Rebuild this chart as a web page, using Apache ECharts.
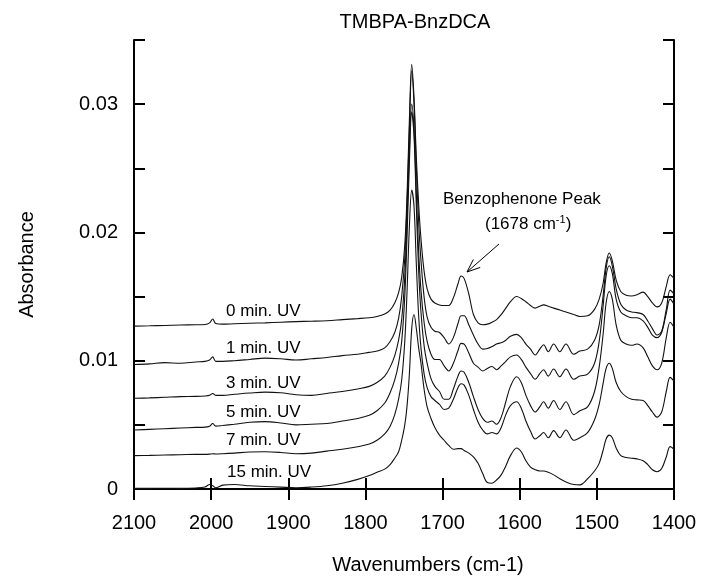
<!DOCTYPE html>
<html><head><meta charset="utf-8">
<script src="https://cdn.jsdelivr.net/npm/echarts@6/dist/echarts.min.js"></script>
<style>html,body{margin:0;padding:0;background:#fff}#c{width:702px;height:585px}</style>
</head><body><div id="c"></div>
<script>
// Shared wavenumber grid (cm-1)
const wavenumbers = [
  2100, 2080, 2060, 2040, 2020, 2008, 2002, 1998, 1994, 1985,
  1970, 1950, 1930, 1910, 1890, 1870, 1850, 1830, 1810, 1795,
  1785, 1775, 1768, 1762, 1757, 1753, 1749, 1746, 1743, 1740,
  1737, 1734, 1731, 1728, 1724, 1720, 1715, 1710, 1704, 1698,
  1692, 1686, 1680, 1676, 1672, 1666, 1660, 1654, 1648, 1642,
  1636, 1630, 1624, 1618, 1612, 1604, 1598, 1592, 1586, 1580,
  1574, 1569, 1563, 1556, 1548, 1540, 1530, 1522, 1512, 1503,
  1497, 1492, 1488, 1484, 1480, 1475, 1469, 1462, 1455, 1448,
  1440, 1434, 1428, 1422, 1416, 1410, 1405, 1400
];
const abs0min = [
  12.70e-3, 12.72e-3, 12.75e-3, 12.78e-3, 12.80e-3, 12.82e-3, 12.95e-3, 13.25e-3, 12.90e-3, 12.85e-3,
  12.88e-3, 12.92e-3, 12.95e-3, 13.00e-3, 13.05e-3, 13.08e-3, 13.12e-3, 13.20e-3, 13.28e-3, 13.35e-3,
  13.45e-3, 13.65e-3, 13.95e-3, 14.50e-3, 15.30e-3, 16.50e-3, 19.00e-3, 23.00e-3, 28.80e-3, 33.10e-3,
  30.50e-3, 25.80e-3, 22.20e-3, 19.50e-3, 17.00e-3, 15.60e-3, 14.80e-3, 14.50e-3, 14.35e-3, 14.30e-3,
  14.30e-3, 14.90e-3, 16.00e-3, 16.60e-3, 16.40e-3, 15.20e-3, 13.60e-3, 12.95e-3, 12.80e-3, 12.85e-3,
  13.00e-3, 13.20e-3, 13.60e-3, 14.10e-3, 14.60e-3, 15.00e-3, 14.85e-3, 14.60e-3, 14.30e-3, 14.10e-3,
  14.25e-3, 14.35e-3, 14.25e-3, 14.10e-3, 13.95e-3, 13.80e-3, 13.60e-3, 13.45e-3, 13.50e-3, 14.00e-3,
  14.80e-3, 16.00e-3, 17.60e-3, 18.40e-3, 17.80e-3, 16.30e-3, 15.40e-3, 15.10e-3, 15.05e-3, 15.15e-3,
  15.35e-3, 15.00e-3, 14.50e-3, 14.20e-3, 14.50e-3, 15.80e-3, 16.70e-3, 16.40e-3
];
const abs1min = [
  9.70e-3, 9.75e-3, 9.85e-3, 9.80e-3, 9.90e-3, 9.95e-3, 10.05e-3, 10.30e-3, 9.95e-3, 9.95e-3,
  10.00e-3, 10.10e-3, 10.20e-3, 10.15e-3, 10.05e-3, 10.15e-3, 10.25e-3, 10.40e-3, 10.50e-3, 10.65e-3,
  10.75e-3, 11.00e-3, 11.50e-3, 12.20e-3, 13.30e-3, 15.00e-3, 18.00e-3, 22.30e-3, 28.00e-3, 32.60e-3,
  30.00e-3, 25.00e-3, 20.80e-3, 17.80e-3, 15.00e-3, 13.40e-3, 12.60e-3, 12.30e-3, 12.20e-3, 11.80e-3,
  11.30e-3, 11.80e-3, 12.90e-3, 13.50e-3, 13.50e-3, 12.80e-3, 12.00e-3, 11.30e-3, 10.90e-3, 10.95e-3,
  11.10e-3, 11.30e-3, 11.40e-3, 11.60e-3, 11.90e-3, 12.05e-3, 11.80e-3, 11.30e-3, 10.90e-3, 10.45e-3,
  10.90e-3, 11.25e-3, 10.70e-3, 11.30e-3, 10.70e-3, 11.30e-3, 10.50e-3, 10.75e-3, 10.90e-3, 11.60e-3,
  12.80e-3, 15.00e-3, 17.20e-3, 18.10e-3, 17.40e-3, 15.60e-3, 14.40e-3, 13.95e-3, 13.80e-3, 13.75e-3,
  13.60e-3, 13.10e-3, 12.50e-3, 12.00e-3, 12.30e-3, 14.00e-3, 15.50e-3, 15.20e-3
];
const abs3min = [
  7.07e-3, 7.10e-3, 7.15e-3, 7.20e-3, 7.22e-3, 7.25e-3, 7.30e-3, 7.45e-3, 7.30e-3, 7.30e-3,
  7.38e-3, 7.48e-3, 7.55e-3, 7.50e-3, 7.35e-3, 7.30e-3, 7.45e-3, 7.60e-3, 7.80e-3, 8.00e-3,
  8.30e-3, 8.80e-3, 9.50e-3, 10.40e-3, 11.60e-3, 13.20e-3, 16.50e-3, 21.00e-3, 26.50e-3, 30.00e-3,
  28.00e-3, 23.00e-3, 18.50e-3, 15.50e-3, 13.00e-3, 11.50e-3, 10.50e-3, 10.10e-3, 10.10e-3, 9.60e-3,
  9.20e-3, 9.80e-3, 10.80e-3, 11.35e-3, 11.30e-3, 10.60e-3, 9.80e-3, 9.50e-3, 9.20e-3, 9.40e-3,
  9.55e-3, 9.30e-3, 9.60e-3, 9.95e-3, 10.30e-3, 10.45e-3, 10.10e-3, 9.50e-3, 9.00e-3, 8.55e-3,
  9.00e-3, 9.30e-3, 8.80e-3, 9.35e-3, 8.75e-3, 9.35e-3, 8.55e-3, 8.80e-3, 8.95e-3, 9.80e-3,
  11.50e-3, 14.20e-3, 16.60e-3, 17.40e-3, 16.80e-3, 14.80e-3, 13.80e-3, 13.50e-3, 13.35e-3, 13.35e-3,
  13.10e-3, 12.60e-3, 12.00e-3, 11.80e-3, 12.20e-3, 13.70e-3, 14.80e-3, 14.40e-3
];
const abs5min = [
  4.60e-3, 4.65e-3, 4.70e-3, 4.75e-3, 4.80e-3, 4.82e-3, 4.90e-3, 5.10e-3, 4.90e-3, 4.95e-3,
  5.05e-3, 5.20e-3, 5.25e-3, 5.15e-3, 5.00e-3, 5.05e-3, 5.10e-3, 5.30e-3, 5.50e-3, 5.75e-3,
  6.10e-3, 6.70e-3, 7.50e-3, 8.50e-3, 9.80e-3, 11.50e-3, 15.00e-3, 19.80e-3, 25.50e-3, 29.40e-3,
  27.50e-3, 22.00e-3, 17.00e-3, 13.80e-3, 11.20e-3, 9.80e-3, 8.60e-3, 8.00e-3, 7.60e-3, 7.00e-3,
  7.00e-3, 7.80e-3, 8.80e-3, 9.20e-3, 9.10e-3, 8.30e-3, 7.20e-3, 6.20e-3, 5.50e-3, 5.20e-3,
  5.30e-3, 5.05e-3, 5.60e-3, 6.80e-3, 8.00e-3, 8.75e-3, 8.30e-3, 7.30e-3, 6.50e-3, 6.00e-3,
  6.40e-3, 6.80e-3, 6.30e-3, 6.90e-3, 6.20e-3, 6.80e-3, 5.80e-3, 6.10e-3, 6.40e-3, 7.60e-3,
  9.50e-3, 12.00e-3, 14.50e-3, 15.40e-3, 14.80e-3, 12.80e-3, 11.60e-3, 11.30e-3, 11.20e-3, 11.30e-3,
  11.00e-3, 10.30e-3, 9.60e-3, 9.30e-3, 9.80e-3, 11.80e-3, 13.00e-3, 12.60e-3
];
const abs7min = [
  2.60e-3, 2.62e-3, 2.65e-3, 2.67e-3, 2.70e-3, 2.70e-3, 2.72e-3, 2.75e-3, 2.73e-3, 2.75e-3,
  2.80e-3, 2.88e-3, 2.90e-3, 2.85e-3, 2.75e-3, 2.80e-3, 2.95e-3, 3.10e-3, 3.30e-3, 3.50e-3,
  3.80e-3, 4.30e-3, 4.90e-3, 5.80e-3, 7.00e-3, 8.50e-3, 11.50e-3, 15.50e-3, 20.50e-3, 23.30e-3,
  22.00e-3, 17.50e-3, 13.50e-3, 11.00e-3, 9.00e-3, 7.90e-3, 7.20e-3, 6.90e-3, 6.60e-3, 6.20e-3,
  6.30e-3, 7.00e-3, 7.90e-3, 8.20e-3, 8.10e-3, 7.30e-3, 6.20e-3, 5.20e-3, 4.60e-3, 4.30e-3,
  4.40e-3, 4.30e-3, 4.80e-3, 5.80e-3, 6.50e-3, 6.80e-3, 6.30e-3, 5.30e-3, 4.50e-3, 3.90e-3,
  4.15e-3, 4.40e-3, 4.00e-3, 4.55e-3, 4.00e-3, 4.60e-3, 3.80e-3, 4.00e-3, 4.40e-3, 5.40e-3,
  6.60e-3, 8.20e-3, 9.40e-3, 9.80e-3, 9.40e-3, 8.30e-3, 7.60e-3, 7.20e-3, 7.00e-3, 6.95e-3,
  6.90e-3, 6.50e-3, 6.00e-3, 5.60e-3, 6.00e-3, 7.60e-3, 8.70e-3, 8.40e-3
];
const abs15min = [
  0.05e-3, 0.05e-3, 0.06e-3, 0.05e-3, 0.08e-3, 0.15e-3, 0.35e-3, 0.25e-3, 0.10e-3, 0.30e-3,
  0.35e-3, 0.25e-3, 0.20e-3, 0.15e-3, 0.10e-3, 0.15e-3, 0.25e-3, 0.45e-3, 0.75e-3, 1.05e-3,
  1.30e-3, 1.55e-3, 1.90e-3, 2.40e-3, 2.90e-3, 3.80e-3, 5.00e-3, 6.50e-3, 9.00e-3, 12.50e-3,
  13.60e-3, 12.50e-3, 11.00e-3, 9.80e-3, 7.80e-3, 6.40e-3, 5.50e-3, 4.80e-3, 4.20e-3, 3.80e-3,
  3.40e-3, 3.10e-3, 3.15e-3, 3.15e-3, 3.00e-3, 2.80e-3, 2.50e-3, 2.00e-3, 1.20e-3, 0.50e-3,
  0.45e-3, 0.70e-3, 1.10e-3, 1.80e-3, 2.60e-3, 3.20e-3, 2.90e-3, 2.20e-3, 1.70e-3, 1.50e-3,
  1.40e-3, 1.40e-3, 1.30e-3, 1.10e-3, 0.80e-3, 0.55e-3, 0.35e-3, 0.32e-3, 0.80e-3, 1.40e-3,
  2.00e-3, 3.00e-3, 3.90e-3, 4.20e-3, 4.00e-3, 3.20e-3, 2.60e-3, 2.45e-3, 2.40e-3, 2.35e-3,
  2.20e-3, 1.90e-3, 1.50e-3, 1.35e-3, 1.60e-3, 2.50e-3, 3.30e-3, 3.10e-3
];
const seriesNames = ['0 min. UV', '1 min. UV', '3 min. UV', '5 min. UV', '7 min. UV', '15 min. UV'];
const seriesValues = [abs0min, abs1min, abs3min, abs5min, abs7min, abs15min];
const xTickValues = [2100, 2000, 1900, 1800, 1700, 1600, 1500, 1400];
const yTickLabels = ['0', '0.01', '0.02', '0.03'];

const FONT = 'Liberation Sans, Arial, Helvetica, sans-serif';
const chart = echarts.init(document.getElementById('c'), null, {renderer: 'canvas'});

const axisLine = {show: true, lineStyle: {color: '#000', width: 2}};
const axisTick = {show: true, inside: true, length: 11, lineStyle: {color: '#000', width: 2}};

// label positions (pixels) beside each spectrum baseline
const labelPos = [[226, 311], [226, 348], [226, 383], [226, 412], [226, 440], [227, 472]];

// arrow geometry (pixels)
const tail = [499, 244], head = [467, 272];
const dx = tail[0] - head[0], dy = tail[1] - head[1];
const L = Math.hypot(dx, dy), ux = dx / L, uy = dy / L;
const hl = 14, ang = 22 * Math.PI / 180;
const w1 = [head[0] + hl * (ux * Math.cos(ang) - uy * Math.sin(ang)), head[1] + hl * (ux * Math.sin(ang) + uy * Math.cos(ang))];
const w2 = [head[0] + hl * (ux * Math.cos(-ang) - uy * Math.sin(-ang)), head[1] + hl * (ux * Math.sin(-ang) + uy * Math.cos(-ang))];

const graphics = [
  {type: 'text', x: 415, y: 22, z: 100, style: {text: 'TMBPA-BnzDCA', fontSize: 20, fontFamily: FONT, fill: '#000', align: 'center', verticalAlign: 'middle'}},
  {type: 'text', x: 443, y: 199, z: 100, style: {text: 'Benzophenone Peak', fontSize: 17, fontFamily: FONT, fill: '#000', align: 'left', verticalAlign: 'middle'}},
  {type: 'text', x: 485, y: 224, z: 100, style: {text: '(1678 cm{sup|-1})', fontSize: 17, fontFamily: FONT, fill: '#000', align: 'left', verticalAlign: 'middle',
    rich: {sup: {fontSize: 11, fontFamily: FONT, fill: '#000', verticalAlign: 'top', lineHeight: 20}}}},
  {type: 'line', z: 100, shape: {x1: tail[0], y1: tail[1], x2: head[0], y2: head[1]}, style: {stroke: '#000', lineWidth: 1}},
  {type: 'polyline', z: 100, shape: {points: [w1, head, w2]}, style: {stroke: '#000', lineWidth: 1, fill: null}}
];
seriesNames.forEach((n, i) => {
  graphics.push({type: 'text', x: labelPos[i][0], y: labelPos[i][1], z: 100,
    style: {text: n, fontSize: 17, fontFamily: FONT, fill: '#000', align: 'left', verticalAlign: 'middle'}});
});

const option = {
  backgroundColor: '#fff',
  animation: false,
  grid: {left: 134, right: 28, top: 40, bottom: 96, containLabel: false},
  xAxis: [
    {type: 'value', min: 1400, max: 2100, interval: 100, inverse: true, position: 'bottom',
      axisLine, axisTick, splitLine: {show: false},
      axisLabel: {show: true, margin: 24, fontSize: 20, fontFamily: FONT, color: '#000',
        formatter: v => xTickValues.indexOf(v) >= 0 ? String(v) : ''},
      name: 'Wavenumbers (cm-1)', nameLocation: 'middle', nameGap: 66,
      nameTextStyle: {fontSize: 20, fontFamily: FONT, color: '#000', padding: [0, 0, 0, 48]}},
    {type: 'value', min: 1400, max: 2100, interval: 100, inverse: true, position: 'top',
      axisLine, axisTick, splitLine: {show: false}, axisLabel: {show: false}}
  ],
  yAxis: [
    {type: 'value', min: 0, max: 0.035, interval: 0.005, position: 'left',
      axisLine, axisTick, splitLine: {show: false},
      axisLabel: {show: true, margin: 16, fontSize: 20, fontFamily: FONT, color: '#000',
        formatter: v => {
          const k = Math.round(v * 1000);
          if (k % 10 !== 0) return '';
          return yTickLabels[k / 10] || '';
        }},
      name: 'Absorbance', nameLocation: 'middle', nameGap: 97,
      nameTextStyle: {fontSize: 20, fontFamily: FONT, color: '#000'}},
    {type: 'value', min: 0, max: 0.035, interval: 0.005, position: 'right',
      axisLine, axisTick, splitLine: {show: false}, axisLabel: {show: false}}
  ],
  series: seriesValues.map((vals, i) => ({
    name: seriesNames[i], type: 'line', xAxisIndex: 0, yAxisIndex: 0,
    data: wavenumbers.map((w, j) => [w, vals[j]]),
    showSymbol: false, symbol: 'none', smooth: 0.35, clip: true,
    lineStyle: {color: '#111', width: 1.1}
  })),
  graphic: graphics
};
chart.setOption(option);
</script>
</body></html>
